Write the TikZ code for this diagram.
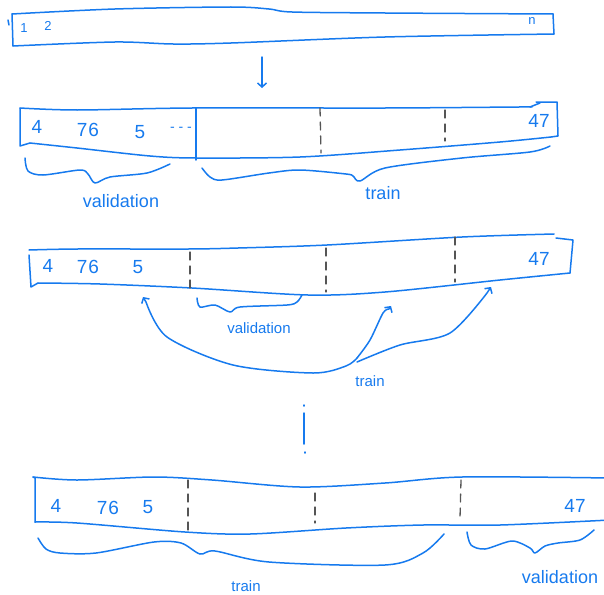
\documentclass[tikz,border=0pt]{standalone}
\usepackage{fontspec}
\setmainfont{Liberation Sans}
\usetikzlibrary{arrows.meta}
\definecolor{ink}{RGB}{22,122,238}
\definecolor{pencil}{RGB}{85,85,85}
\tikzset{
  stroke/.style={draw=ink, line width=1.5pt, line cap=round, line join=round},
  split/.style={draw=pencil, line width=1.3pt, line cap=round, dash pattern=on 8pt off 6pt},
  digits/.style={text=ink, font=\fontsize{19}{19}\selectfont, inner sep=0pt},
  tag/.style={text=ink, font=\fontsize{18}{18}\selectfont, inner sep=0pt},
  smalltag/.style={text=ink, font=\fontsize{15}{15}\selectfont, inner sep=0pt},
  barb/.style={-{Straight Barb[length=4pt,width=9pt]}}
}
\begin{document}
\begin{tikzpicture}[x=1pt,y=-1pt]
\useasboundingbox (0,0) rectangle (604,594);
\clip (0,0) rectangle (604,594);

% ---------- full data set ----------
\draw[stroke] plot[smooth] coordinates {(12,14) (115,9) (231,7) (269,9) (292,12) (385,13) (553,14)};
\draw[stroke] (553,14) -- (554,34);
\draw[stroke] plot[smooth] coordinates {(554,34) (385,37) (231,43) (173,44) (115,42) (13,46)};
\draw[stroke] (12,14) -- (13,46);
\draw[stroke] (8,20) -- (9,25);
\node[digits, font=\fontsize{13}{13}\selectfont] (one) at (24,28) {1};
\node[digits, font=\fontsize{13}{13}\selectfont] (two) at (48,26) {2};
\node[digits, font=\fontsize{13}{13}\selectfont] (enn) at (532,21) {n};

\coordinate (downtop) at (262,57);
\coordinate (downbot) at (262,88);
\draw[stroke,barb] (downtop) -- (downbot);

% ---------- hold-out split ----------
\draw[stroke] plot[smooth] coordinates {(20,108) (77,110) (192,108) (385,108) (519,107) (530,107)};
\draw[stroke] (530,107) -- (540,103);
\draw[stroke] (536,102) -- (557,102) -- (558,136) -- (551,137);
\draw[stroke] plot[smooth] coordinates {(30,143) (77,148) (150,156) (196,158) (300,157) (400,150) (500,142) (551,137)};
\draw[stroke] (20,108) -- (20,146) -- (30,143);
\draw[stroke] (196,108) -- (196,160);
\draw[split] (320,108) -- (321,153);
\draw[split] (445,110) -- (445,141);
\node[digits] (h4) at (37,127) {4};
\node[digits] (h76) at (88,130) {7\kern1pt6};
\node[digits] (h5) at (140,132) {5};
\node[digits, font=\fontsize{14}{14}\selectfont] (hdots) at (181,129) {- - -};
\node[digits] (h47) at (539,121) {47};

\draw[stroke] plot[smooth] coordinates {(25,158) (28,171) (43,175) (80,170) (88,174) (95,183) (110,177) (147,173) (170,164)};
\node[tag] (hval) at (121,201) {validation};
\draw[stroke] plot[smooth] coordinates {(202,168) (210,177) (222,180) (269,173) (300,170) (346,174) (353,176) (360,181) (385,168) (462,158) (530,152) (550,146)};
\node[tag] (htrain) at (383,193) {train};

% ---------- rotating validation window ----------
\draw[stroke] plot[smooth] coordinates {(29,250) (77,249) (188,249) (238,248) (327,245) (462,237) (554,234)};
\draw[stroke] (556,238) -- (573,240) -- (570,273);
\draw[stroke] plot[smooth] coordinates {(38,283) (100,284) (192,288) (308,295) (385,292) (500,280) (570,273)};
\draw[stroke] (29,255) -- (31,287) -- (38,283);
\draw[split] (190,252) -- (190,288);
\draw[split] (326,248) -- (326,292);
\draw[split] (455,237) -- (455,282);
\node[digits] (r4) at (48,266) {4};
\node[digits] (r76) at (88,267) {7\kern1pt6};
\node[digits] (r5) at (138,267) {5};
\node[digits] (r47) at (539,259) {47};

\draw[stroke] plot[smooth] coordinates {(197,298) (200,307) (215,305) (230,312) (240,307) (287,305) (297,302) (302,295)};
\node[smalltag] (rval) at (259,328) {validation};

\coordinate (leftgoal) at (143,297);
\coordinate (midgoal) at (391,306);
\coordinate (rightgoal) at (491,287);
\coordinate (fork) at (357,362);
\draw[stroke,barb] plot[smooth] coordinates {(357,358) (346,366) (313,373) (233,365) (167,337) (146,302)} -- (leftgoal);
\draw[stroke,barb] plot[smooth] coordinates {(357,358) (370,340) (383,313) (389,309)} -- (midgoal);
\draw[stroke,barb] plot[smooth] coordinates {(fork) (400,345) (450,333) (487,293)} -- (rightgoal);
\node[smalltag] (rtrain) at (370,381) {train};

% ---------- continuation ----------
\draw[stroke] (304,405) -- (304,406);
\draw[stroke] (304,413) -- (304,444);
\draw[stroke] (305,452) -- (305,453);

% ---------- last fold ----------
\draw[stroke] plot[smooth] coordinates {(33,477) (77,480) (154,477) (212,480) (300,487) (385,483) (462,477) (610,478)};
\draw[stroke] (33,477) -- (35,478) -- (35,522);
\draw[stroke] plot[smooth] coordinates {(35,522) (77,523) (185,532) (250,534) (346,528) (423,525) (500,525) (610,520)};
\draw[split] (188,480) -- (188,532);
\draw[split] (315,493) -- (315,523);
\draw[split] (461,480) -- (460,518);
\node[digits] (l4) at (56,506) {4};
\node[digits] (l76) at (108,508) {7\kern1pt6};
\node[digits] (l5) at (148,507) {5};
\node[digits] (l47) at (575,506) {47};

\draw[stroke] plot[smooth] coordinates {(38,538) (46,549) (60,553) (96,553) (154,542) (181,543) (200,554) (215,551) (269,562) (385,565) (423,553) (444,534)};
\node[smalltag] (ltrain) at (246,586) {train};
\draw[stroke] plot[smooth] coordinates {(467,532) (471,545) (485,549) (512,541) (530,548) (535,553) (545,546) (558,543) (580,540) (594,530)};
\node[tag] (lval) at (560,577) {validation};
\end{tikzpicture}
\end{document}
